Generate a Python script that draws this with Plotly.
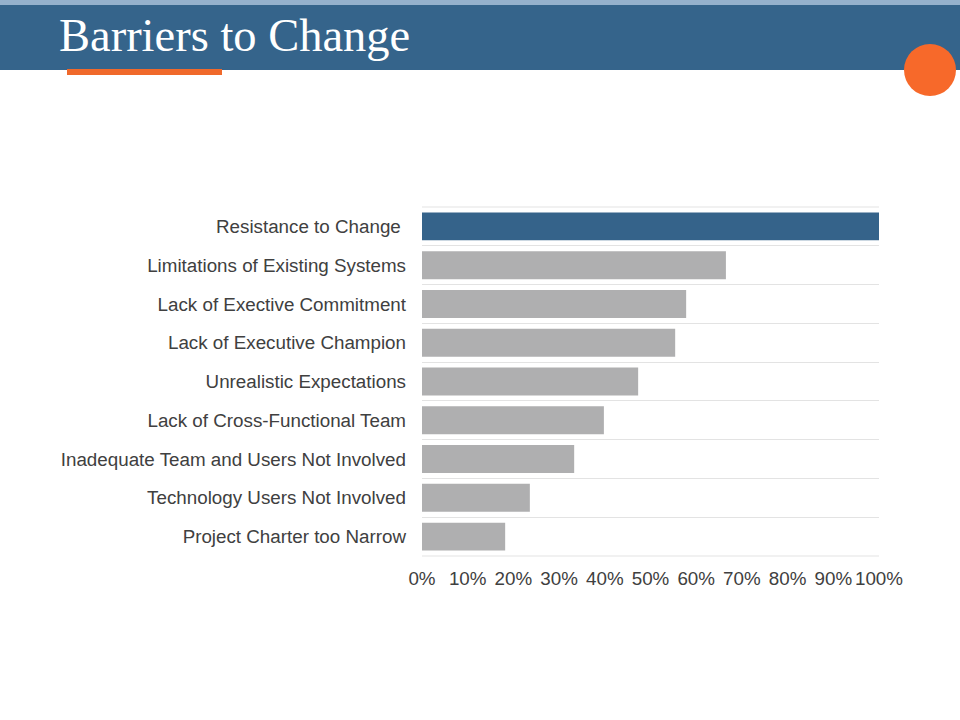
import plotly.graph_objects as go

categories = [
    "Resistance to Change\u00a0",
    "Limitations of Existing Systems",
    "Lack of Exective Commitment",
    "Lack of Executive Champion",
    "Unrealistic Expectations",
    "Lack of Cross-Functional Team",
    "Inadequate Team and Users Not Involved",
    "Technology Users Not Involved",
    "Project Charter too Narrow",
]
values = [1.00, 0.665, 0.578, 0.554, 0.473, 0.398, 0.333, 0.236, 0.182]
colors = ["#35638a"] + ["#afafb0"] * 8
tick_vals = [0, 0.1, 0.2, 0.3, 0.4, 0.5, 0.6, 0.7, 0.8, 0.9, 1.0]
tick_text = ["0%", "10%", "20%", "30%", "40%", "50%", "60%", "70%", "80%", "90%", "100%"]

W, H = 960, 720
GRID = "#e3e3e3"

fig = go.Figure()
fig.add_trace(go.Bar(
    x=values, y=categories, orientation="h",
    marker=dict(color=colors, line=dict(width=0)),
    width=0.72, hoverinfo="skip",
))

def px(x):
    return x / W

def py(y):
    return 1 - y / H

shapes = [
    dict(type="rect", xref="paper", yref="paper", x0=0, x1=1, y0=py(5), y1=1,
         fillcolor="#95b1cc", line=dict(width=0), layer="above"),
    dict(type="rect", xref="paper", yref="paper", x0=0, x1=1, y0=py(70), y1=py(5),
         fillcolor="#35648b", line=dict(width=0), layer="above"),
    dict(type="rect", xref="paper", yref="paper", x0=px(67), x1=px(222), y0=py(75), y1=py(69),
         fillcolor="#f0692b", line=dict(width=0), layer="above"),
    dict(type="circle", xref="paper", yref="paper", x0=px(904), x1=px(956), y0=py(96), y1=py(44),
         fillcolor="#f7692a", line=dict(width=0), layer="above"),
    # top and bottom border lines of the plot area (grid edges)
    dict(type="line", xref="x domain", yref="y domain", x0=0, x1=1, y0=1, y1=1,
         line=dict(color=GRID, width=1), layer="below"),
    dict(type="line", xref="x domain", yref="y domain", x0=0, x1=1, y0=0, y1=0,
         line=dict(color=GRID, width=1), layer="below"),
]

fig.update_layout(
    width=W, height=H,
    margin=dict(l=0, r=0, t=0, b=0, autoexpand=False),
    paper_bgcolor="white", plot_bgcolor="white",
    showlegend=False,
    shapes=shapes,
    font=dict(family="Liberation Sans, Arial, sans-serif", color="#404040", size=18.8),
    xaxis=dict(
        domain=[px(422), px(879)], range=[0, 1],
        tickvals=tick_vals, ticktext=tick_text,
        showgrid=False, zeroline=False, showline=False,
        ticks="", tickfont=dict(size=18.8, color="#404040"),
        ticklabelstandoff=9, automargin=False, tickangle=0,
        fixedrange=True,
    ),
    yaxis=dict(
        domain=[py(556), py(207)],
        type="category", autorange="reversed",
        tickson="boundaries", showgrid=True, gridcolor=GRID, gridwidth=1,
        showline=False, zeroline=False, ticks="",
        ticklabelstandoff=15, automargin=False,
        tickfont=dict(size=18.8, color="#404040"),
        fixedrange=True,
    ),
    annotations=[
        dict(text="Barriers to Change", xref="paper", yref="paper",
             x=px(57), y=py(35), xanchor="left", yanchor="middle",
             showarrow=False,
             font=dict(family="Liberation Serif, DejaVu Serif, serif", size=46.5, color="white")),
    ],
)

fig.write_html(
    "out.html",
    config={"responsive": False, "displayModeBar": False},
    post_script="document.body.style.margin='0';document.body.style.overflow='hidden';",
)
